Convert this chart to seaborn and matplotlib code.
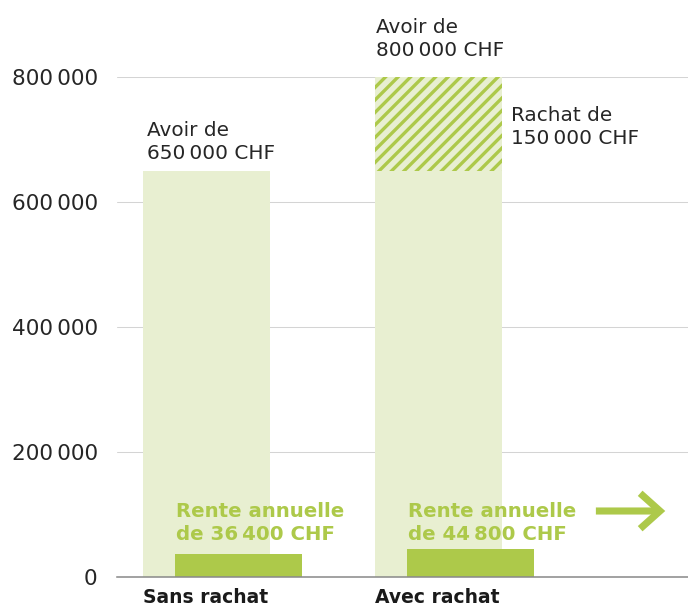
import matplotlib.pyplot as plt
import seaborn as sns
import pandas as pd
from matplotlib.patches import FancyArrowPatch

categories = ["Sans rachat", "Avec rachat"]
avoir = [650000, 800000]
rachat = [0, 150000]
rente = [36400, 44800]
avoir_labels = ["Avoir de\n650\u202f000 CHF", "Avoir de\n800\u202f000 CHF"]
rachat_label = "Rachat de\n150\u202f000 CHF"
rente_labels = ["Rente annuelle\nde 36\u202f400 CHF", "Rente annuelle\nde 44\u202f800 CHF"]
yticks = [0, 200000, 400000, 600000, 800000]
ytick_labels = ["0", "200\u202f000", "400\u202f000", "600\u202f000", "800\u202f000"]

light = "#e8efd1"
green = "#adc94a"
dark = "#262626"

sns.set_style("white")
plt.rcParams["font.family"] = ["DejaVu Sans"]
plt.rcParams["hatch.linewidth"] = 1.6

df = pd.DataFrame({"cat": categories, "avoir": avoir})

# dpi 150 so the hatch spacing comes out close to the original
fig = plt.figure(figsize=(688 / 150, 606 / 150), dpi=150)
ax = fig.add_axes([117 / 688, 29 / 606, 571 / 688, 500 / 606])

w = 0.547
sns.barplot(data=df, x="cat", y="avoir", color=light, saturation=1, width=w,
            linewidth=0, ax=ax, zorder=2)

# hatched buy-back part
for i, r in enumerate(rachat):
    if r > 0:
        ax.bar(i, r, bottom=avoir[i] - r, width=w, color=light, edgecolor=green,
               hatch="////", linewidth=0, zorder=3)

# annual pension bars, shifted to the right
off = 0.138
ax.bar([i + off for i in range(len(rente))], rente, width=w, color=green, linewidth=0, zorder=4)

ax.set_xlim(-0.386, 2.075)
ax.set_ylim(0, 800000)
ax.set_yticks(yticks)
ax.set_yticklabels(ytick_labels, fontsize=10.3, color=dark)
ax.yaxis.grid(True, color="#d4d4d4", linewidth=0.5, zorder=0)
ax.set_axisbelow(True)
ax.tick_params(axis="y", length=0, pad=9.3)
ax.tick_params(axis="x", length=0, pad=5.5)
ax.set_xticks([i - w / 2 for i in range(len(categories))])
ax.set_xticklabels(categories, ha="left", fontsize=9.0, fontweight="bold", color="#1a1a1a")
ax.set_xlabel("")
ax.set_ylabel("")
for s in ["top", "right", "left"]:
    ax.spines[s].set_visible(False)
ax.spines["bottom"].set_color("#8a8a8a")
ax.spines["bottom"].set_linewidth(0.75)
ax.spines["bottom"].set_zorder(5)

# text labels
ax.text(0 - w / 2 + 0.015, 696000, avoir_labels[0], ha="left", va="center",
        fontsize=9.6, color=dark, linespacing=1.3, clip_on=False)
ax.text(1 - w / 2 + 0.005, 861000, avoir_labels[1], ha="left", va="center",
        fontsize=9.6, color=dark, linespacing=1.3, clip_on=False)
ax.text(1 + w / 2 + 0.04, 720000, rachat_label, ha="left", va="center",
        fontsize=9.6, color=dark, linespacing=1.3)
for i, lab in enumerate(rente_labels):
    ax.text(i + off - w / 2 + 0.005, 86400, lab, ha="left", va="center",
            fontsize=9.5, fontweight="bold", color=green, linespacing=1.25, zorder=6)

arrow = FancyArrowPatch((1.66, 105600), (1.995, 105600),
                        arrowstyle="->,head_length=0.95,head_width=0.85",
                        mutation_scale=10, color=green, linewidth=3.4, zorder=6,
                        capstyle="butt", joinstyle="miter")
ax.add_patch(arrow)

fig.savefig("out.png", dpi=150)
